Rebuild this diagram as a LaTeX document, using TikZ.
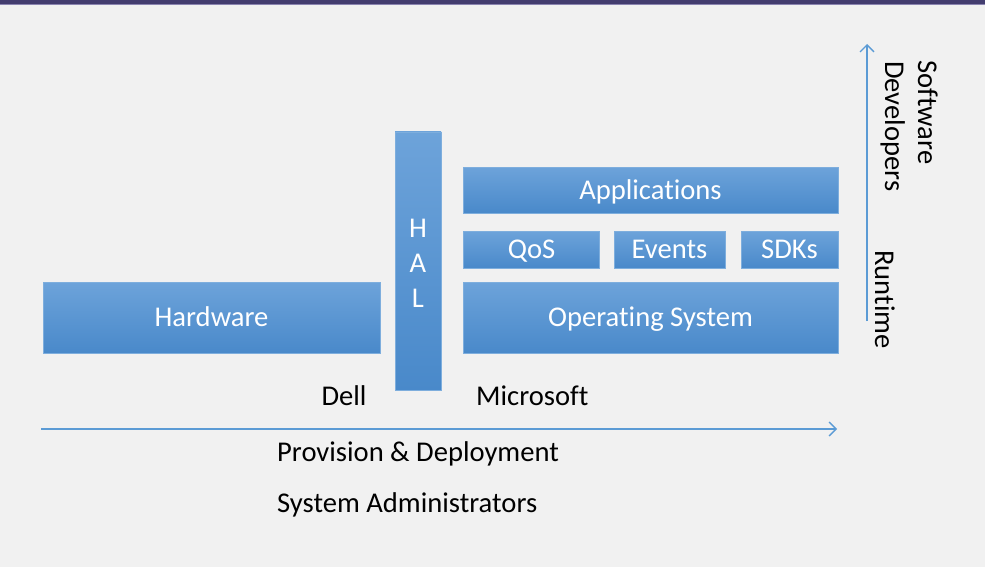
\documentclass[tikz,border=0pt]{standalone}
\usepackage{fontspec}
\setmainfont{Carlito}[Ligatures=CommonOff]
\usetikzlibrary{arrows.meta}
\definecolor{bgc}{HTML}{F1F1F1}
\definecolor{barc}{HTML}{433D6F}
\definecolor{barl}{HTML}{8A84B0}
\definecolor{arrc}{HTML}{5B9BD5}
\definecolor{boxtop}{HTML}{6DA3DA}
\definecolor{boxmid}{HTML}{5A9CDB}
\definecolor{boxbot}{HTML}{4989CA}
\definecolor{boxedge}{HTML}{7EAEDD}
\tikzset{
  bluebox/.style={rectangle, inner sep=0pt, top color=boxtop, middle color=boxmid, bottom color=boxbot,
    draw=boxedge, line width=0.8pt, text=white, font=\fontsize{28.6}{34}\selectfont,
    text height=18pt, text depth=0pt},
  plain/.style={inner sep=0pt, text=black, font=\fontsize{28.6}{34}\selectfont},
  flow/.style={draw=arrc, line width=1.3pt, -{Straight Barb[length=7pt,width=14pt,line width=1.3pt]}}
}
\begin{document}
\begin{tikzpicture}[x=1pt,y=-1pt]
\useasboundingbox (0,0) rectangle (985,567);
\fill[bgc] (0,0) rectangle (985,567);
\fill[barc] (0,0) rectangle (985,4);
\draw[barl, line width=1pt] (0,4.8) -- (985,4.8);
% boxes
\node[bluebox, minimum width=337pt, minimum height=71pt] (hw) at (211.5,317.5) {Hardware};
\node[bluebox, minimum width=46pt, minimum height=258pt, text height=, text depth=] (hal) at (418,261) {};
\node[inner sep=0pt, text=white, align=center, font=\fontsize{28.6}{35}\selectfont] (halt) at (418,263) {H\\A\\L};
\node[bluebox, minimum width=375pt, minimum height=46pt] (app) at (650.5,190) {Applications};
\node[bluebox, minimum width=136pt, minimum height=37pt] (qos) at (531.5,249.5) {QoS};
\node[bluebox, minimum width=111pt, minimum height=37pt] (ev) at (669.5,249.5) {Events};
\node[bluebox, minimum width=97pt, minimum height=37pt] (sdk) at (789.5,249.5) {SDKs};
\node[bluebox, minimum width=375pt, minimum height=71pt] (os) at (650.5,317.5) {Operating System};
% labels
\node[plain, anchor=base] (dell) at (344,405) {Dell};
\node[plain, anchor=base west] (ms) at (476,405) {Microsoft};
\node[plain, anchor=base west] (prov) at (277,461) {Provision \& Deployment};
\node[plain, anchor=base west] (sysad) at (277,512) {System Administrators};
\node[plain, anchor=base west, rotate=-90] (sw) at (918,60) {Software};
\node[plain, anchor=base west, rotate=-90] (dev) at (885,61) {Developers};
\node[plain, anchor=base west, rotate=-90] (rt) at (875,250) {Runtime};
% arrows
\coordinate (hs) at (41,429);
\coordinate (he) at (837,429);
\coordinate (vs) at (867,321);
\coordinate (ve) at (867,44);
\draw[flow] (hs) -- (he);
\draw[flow] (vs) -- (ve);
\end{tikzpicture}
\end{document}
